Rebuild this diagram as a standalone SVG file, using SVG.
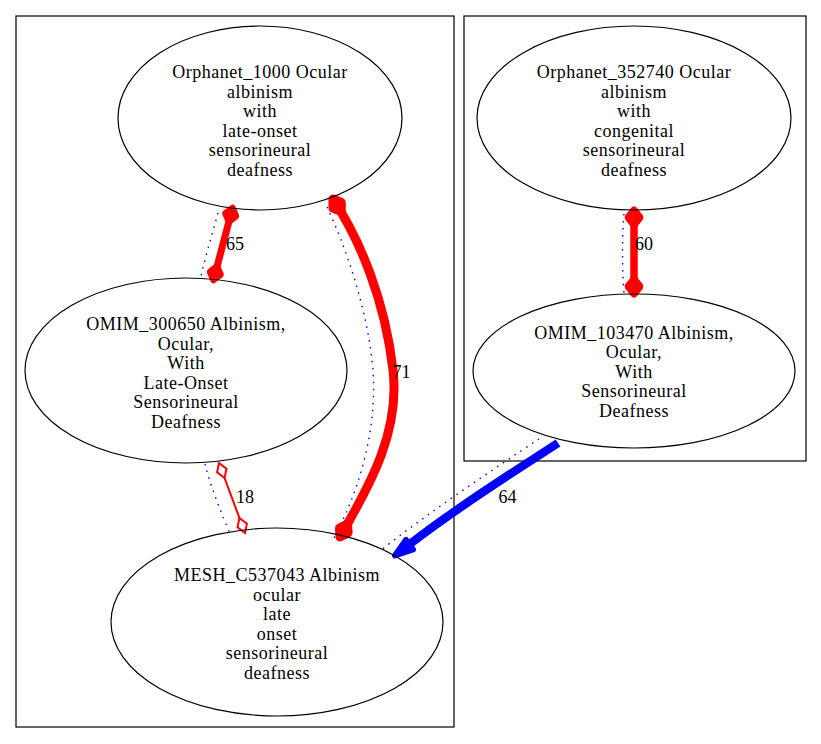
<svg xmlns="http://www.w3.org/2000/svg" width="821" height="744" viewBox="0 0 821 744">
<style>
.cluster{fill:none;stroke:#000;stroke-width:1.2}
.node ellipse{fill:none;stroke:#000;stroke-width:1.2}
.node text{font-family:"Liberation Serif","Times New Roman",serif;font-size:18px;letter-spacing:0.5px;text-anchor:middle;fill:#000}
.lbl{font-family:"Liberation Serif","Times New Roman",serif;font-size:18px;text-anchor:middle;fill:#000}
.dot{fill:none;stroke:#0000ff;stroke-width:1.4;stroke-dasharray:1.5,5.5}
.red{fill:none;stroke:#ff0000}
</style>
<defs>
<marker id="d6" markerUnits="userSpaceOnUse" orient="auto-start-reverse" refX="14" refY="0" markerWidth="30" markerHeight="30" overflow="visible">
<path d="M0,0 L7,-5.5 L14,0 L7,5.5 Z" fill="#ff0000" stroke="#ff0000" stroke-width="6.5" stroke-linejoin="round"/>
</marker>
<marker id="d9" markerUnits="userSpaceOnUse" orient="auto-start-reverse" refX="15" refY="0" markerWidth="30" markerHeight="30" overflow="visible">
<path d="M0,0 L7.5,-5 L15,0 L7.5,5 Z" fill="#ff0000" stroke="#ff0000" stroke-width="9" stroke-linejoin="round"/>
</marker>
<marker id="d7" markerUnits="userSpaceOnUse" orient="auto-start-reverse" refX="15" refY="0" markerWidth="30" markerHeight="30" overflow="visible">
<path d="M0,0 L7.5,-6 L15,0 L7.5,6 Z" fill="#ff0000" stroke="#ff0000" stroke-width="7" stroke-linejoin="round"/>
</marker>
<marker id="od" markerUnits="userSpaceOnUse" orient="auto-start-reverse" refX="16" refY="0" markerWidth="30" markerHeight="30" overflow="visible">
<path d="M0,0 L8,-5 L16,0 L8,5 Z" fill="#ffffff" stroke="#ff0000" stroke-width="2"/>
</marker>
</defs>
<rect width="821" height="744" fill="#ffffff"/>
<g id="clusters">
<rect class="cluster" x="16" y="16" width="438" height="711"/>
<rect class="cluster" x="464" y="16" width="342" height="445"/>
</g>
<g id="edges">
<g id="e1">
<path class="dot" d="M218,213 C212,235 205,258 200,280"/>
<path class="red" stroke-width="7" d="M232.5,208 L213.5,280" marker-start="url(#d6)" marker-end="url(#d6)"/>
<text class="lbl" x="235" y="250">65</text>
</g>
<g id="e2">
<path class="dot" d="M327,207 C345,245 368,310 373,370 C377,430 360,490 332,542"/>
<path class="red" stroke-width="9" d="M333,199 C360,240 385,300 393,370 C400,430 372,482 340,537" marker-start="url(#d9)" marker-end="url(#d9)"/>
<text class="lbl" x="401.5" y="378">71</text>
</g>
<g id="e3">
<path class="dot" d="M205,464 C210,485 222,515 231,536"/>
<path class="red" stroke-width="2" d="M219,463 L245,533" marker-start="url(#od)" marker-end="url(#od)"/>
<text class="lbl" x="245" y="503">18</text>
</g>
<g id="e4">
<path class="dot" d="M539,439 C495,468 425,515 380,551"/>
<path fill="none" stroke="#0000ff" stroke-width="8.5" d="M558,443 C520,468 460,505 410,544"/>
<polygon points="395,555.5 413,549.5 406,540" fill="#0000ff" stroke="#0000ff" stroke-width="6" stroke-linejoin="round"/>
<text class="lbl" x="507.5" y="503">64</text>
</g>
<g id="e5">
<path class="dot" d="M624,214 C622,240 622,265 624,293"/>
<path class="red" stroke-width="7.5" d="M634,210 L634,294" marker-start="url(#d7)" marker-end="url(#d7)"/>
<text class="lbl" x="644" y="250">60</text>
</g>
</g>
<g id="Orphanet_1000" class="node">
<ellipse cx="260" cy="118" rx="142" ry="92"/>
<text x="260" y="78">Orphanet_1000 Ocular</text>
<text x="260" y="97.5">albinism</text>
<text x="260" y="117">with</text>
<text x="260" y="136.5">late-onset</text>
<text x="260" y="156">sensorineural</text>
<text x="260" y="175.5">deafness</text>
</g>
<g id="OMIM_300650" class="node">
<ellipse cx="186" cy="370.5" rx="161" ry="92.5"/>
<text x="186" y="330">OMIM_300650 Albinism,</text>
<text x="186" y="349.5">Ocular,</text>
<text x="186" y="369">With</text>
<text x="186" y="388.5">Late-Onset</text>
<text x="186" y="408">Sensorineural</text>
<text x="186" y="427.5">Deafness</text>
</g>
<g id="MESH_C537043" class="node">
<ellipse cx="277" cy="622" rx="166" ry="94"/>
<text x="277" y="581">MESH_C537043 Albinism</text>
<text x="277" y="600.5">ocular</text>
<text x="277" y="620">late</text>
<text x="277" y="639.5">onset</text>
<text x="277" y="659">sensorineural</text>
<text x="277" y="678.5">deafness</text>
</g>
<g id="Orphanet_352740" class="node">
<ellipse cx="634" cy="118" rx="157" ry="92"/>
<text x="634" y="78">Orphanet_352740 Ocular</text>
<text x="634" y="97.5">albinism</text>
<text x="634" y="117">with</text>
<text x="634" y="136.5">congenital</text>
<text x="634" y="156">sensorineural</text>
<text x="634" y="175.5">deafness</text>
</g>
<g id="OMIM_103470" class="node">
<ellipse cx="634" cy="371" rx="161" ry="77"/>
<text x="634" y="338.5">OMIM_103470 Albinism,</text>
<text x="634" y="358">Ocular,</text>
<text x="634" y="377.5">With</text>
<text x="634" y="397">Sensorineural</text>
<text x="634" y="416.5">Deafness</text>
</g>
</svg>
